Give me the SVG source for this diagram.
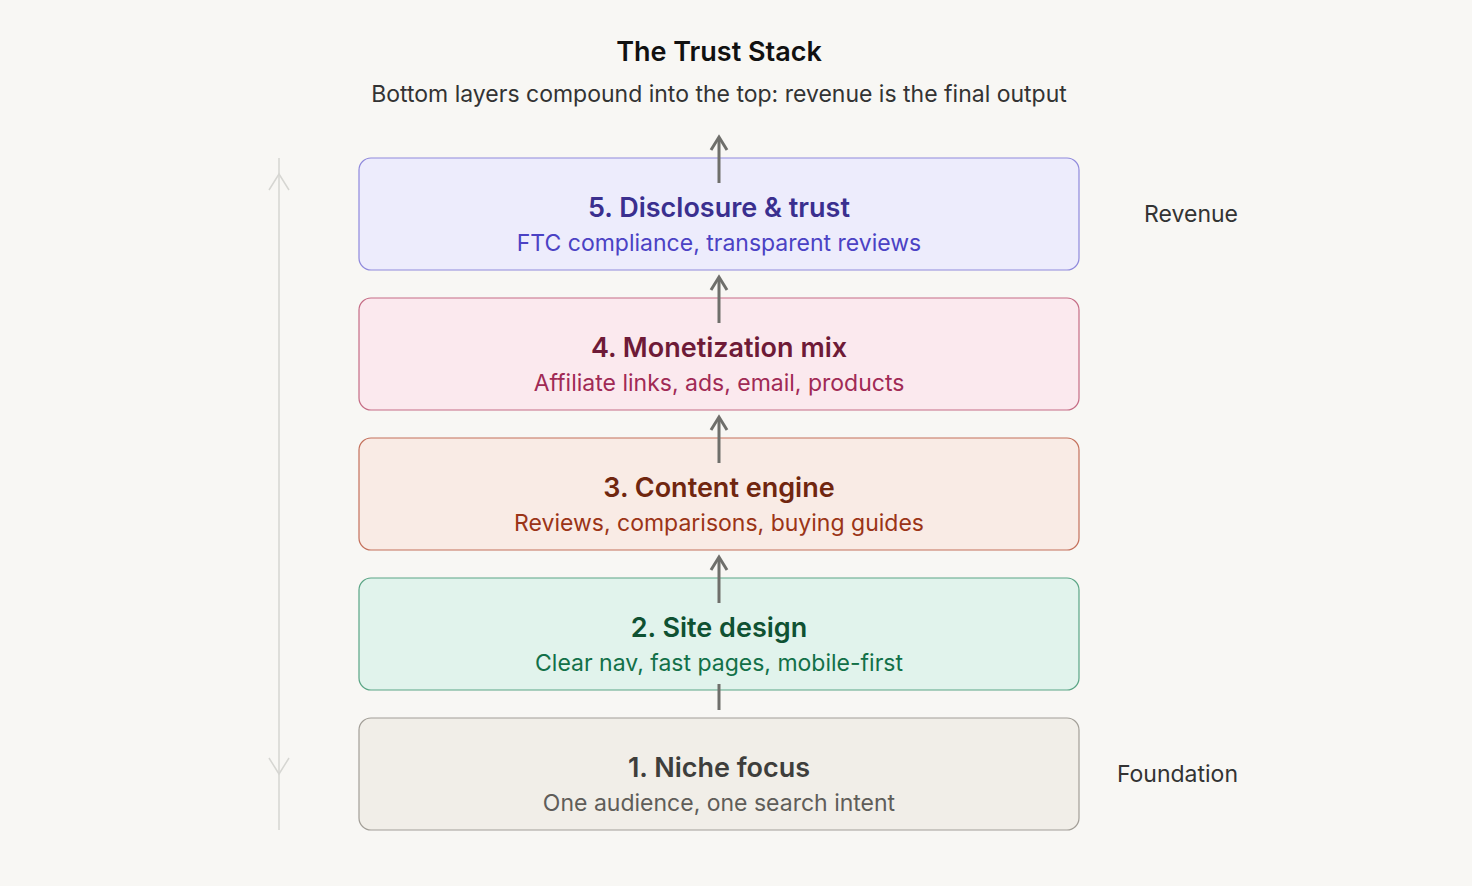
<svg xmlns="http://www.w3.org/2000/svg" width="1472" height="886" viewBox="0 0 1472 886">
<style>
text{font-family:Inter,"Noto Sans",sans-serif;text-anchor:middle}
.t{font-size:27px;font-weight:600}
.s{font-size:23px}
.side{font-size:23px;fill:#333;text-anchor:end}
.box{stroke-width:1.2}
.ar{stroke:#6f6f6b;stroke-width:3;fill:none}
</style>
<rect width="1472" height="886" fill="#f8f7f4"/>
<text x="719" y="61" style="font-size:27px;font-weight:600" fill="#111">The Trust Stack</text>
<text x="719" y="102" style="font-size:23px" fill="#333">Bottom layers compound into the top: revenue is the final output</text>
<g id="axis" stroke="#d6d6d2" stroke-width="1.5" fill="none">
<line x1="279" y1="158" x2="279" y2="830"/>
<polyline points="269,190 279,174 289,190"/>
<polyline points="269,758 279,774 289,758"/>
</g>
<g id="n1"><rect class="box" x="359" y="718" width="720" height="112" rx="12" fill="#f1eee8" stroke="#a29e97"/>
<text class="t" x="719" y="777" fill="#3e3e3c">1. Niche focus</text><text class="s" x="719" y="811" fill="#5f5d59">One audience, one search intent</text></g>
<g id="n2"><rect class="box" x="359" y="578" width="720" height="112" rx="12" fill="#e1f3ec" stroke="#5aa585"/>
<text class="t" x="719" y="637" fill="#0f5132">2. Site design</text><text class="s" x="719" y="671" fill="#127048">Clear nav, fast pages, mobile-first</text></g>
<g id="n3"><rect class="box" x="359" y="438" width="720" height="112" rx="12" fill="#f9ebe5" stroke="#c4705b"/>
<text class="t" x="719" y="497" fill="#70260f">3. Content engine</text><text class="s" x="719" y="531" fill="#9b3417">Reviews, comparisons, buying guides</text></g>
<g id="n4"><rect class="box" x="359" y="298" width="720" height="112" rx="12" fill="#fbe9ee" stroke="#c56c85"/>
<text class="t" x="719" y="357" fill="#6e1a37">4. Monetization mix</text><text class="s" x="719" y="391" fill="#a02a55">Affiliate links, ads, email, products</text></g>
<g id="n5"><rect class="box" x="359" y="158" width="720" height="112" rx="12" fill="#edecfc" stroke="#8f89dc"/>
<text class="t" x="719" y="217" fill="#3a2f8f">5. Disclosure &amp; trust</text><text class="s" x="719" y="251" fill="#4b42c4">FTC compliance, transparent reviews</text></g>
<g id="connectors" class="ar">
<line x1="719" y1="684" x2="719" y2="710"/>
<line x1="719" y1="603" x2="719" y2="558"/><polyline points="711,570 719,557 727,570"/>
<line x1="719" y1="463" x2="719" y2="418"/><polyline points="711,430 719,417 727,430"/>
<line x1="719" y1="323" x2="719" y2="278"/><polyline points="711,290 719,277 727,290"/>
<line x1="719" y1="183" x2="719" y2="138"/><polyline points="711,150 719,137 727,150"/>
</g>
<text class="side" x="1238" y="222">Revenue</text>
<text class="side" x="1238" y="782">Foundation</text>
</svg>
